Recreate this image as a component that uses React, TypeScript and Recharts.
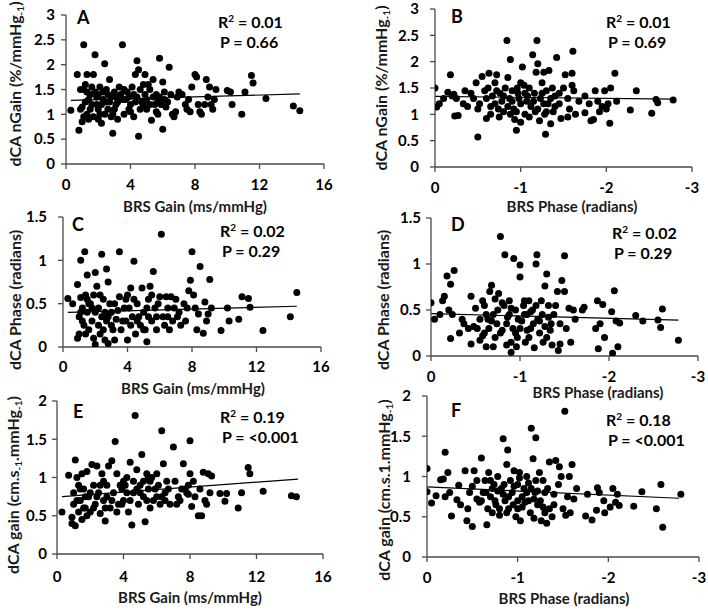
import React from 'react';
import { ScatterChart, Scatter, XAxis, YAxis, ReferenceLine } from 'recharts';

type Pt = [number, number];

const gainTicks = [0, 4, 8, 12, 16];
const phaseTicks = [0, -1, -2, -3];
const nGainTicks = [0, 0.5, 1, 1.5, 2, 2.5, 3];
const dcaPhaseTicks = [0, 0.5, 1, 1.5];
const dcaGainTicks = [0, 0.5, 1, 1.5, 2];

const panelLetters = ['A', 'B', 'C', 'D', 'E', 'F'];
const r2Values = ['0.01', '0.01', '0.02', '0.02', '0.19', '0.18'];
const pValues = ['0.66', '0.69', '0.29', '0.29', '<0.001', '<0.001'];
const xTitles = ['BRS Gain (ms/mmHg)', 'BRS Phase (radians)', 'BRS Gain (ms/mmHg)', 'BRS Phase (radians)', 'BRS Gain (ms/mmHg)', 'BRS Phase (radians)'];

// Panel A: BRS gain vs dCA nGain
const panelA: Pt[] = [
  [0.3, 1.08], [0.7, 1.8], [0.8, 0.68], [1.0, 0.85], [1.0, 1.15], [1.1, 1.5], [1.1, 2.4], [1.2, 1.6], [1.3, 1.8], [1.3, 1.0],
  [1.4, 1.3], [1.5, 1.1], [1.6, 1.55], [1.7, 1.8], [1.7, 0.95], [1.8, 2.2], [1.9, 1.2], [2.0, 1.4], [2.0, 0.9], [2.1, 1.55],
  [2.2, 0.82], [2.3, 1.3], [2.4, 2.02], [2.5, 1.5], [2.6, 1.1], [2.7, 1.7], [2.8, 1.35], [2.9, 1.0], [2.9, 0.62], [3.0, 1.45],
  [3.1, 1.2], [3.2, 0.9], [3.3, 1.55], [3.5, 2.4], [3.5, 1.3], [3.6, 1.0], [3.8, 1.45], [4.0, 1.2], [4.1, 1.55], [4.2, 0.95],
  [4.3, 1.8], [4.4, 2.08], [4.4, 1.35], [4.5, 0.56], [4.5, 1.9], [4.6, 1.1], [4.8, 1.6], [4.9, 1.8], [5.0, 1.3], [5.2, 1.5],
  [5.3, 0.88], [5.4, 1.7], [5.5, 1.2], [5.6, 1.4], [5.7, 1.0], [5.8, 2.13], [6.0, 1.65], [6.0, 0.7], [6.1, 1.3], [6.2, 1.15],
  [6.4, 1.95], [6.5, 1.4], [6.7, 0.95], [6.8, 1.05], [7.0, 1.45], [7.2, 1.4], [7.5, 1.1], [7.6, 1.3], [7.8, 1.55], [8.0, 1.8],
  [8.1, 1.75], [8.2, 1.2], [8.3, 1.05], [8.4, 1.0], [8.7, 1.7], [8.8, 1.35], [8.9, 1.55], [9.0, 1.2], [9.1, 1.1], [9.3, 1.5],
  [9.2, 1.3], [10.0, 1.48], [10.2, 1.45], [10.3, 1.2], [10.9, 1.0], [11.1, 1.45], [11.5, 1.78], [11.6, 1.63], [12.4, 1.32], [14.1, 1.17],
  [14.5, 1.07], [1.2, 1.25], [1.5, 1.4], [1.8, 1.45], [2.2, 1.2], [2.4, 1.0], [2.6, 1.4], [3.0, 1.1], [3.4, 1.4], [3.7, 1.3],
  [3.9, 1.1], [4.2, 1.4], [4.6, 1.5], [4.7, 1.25], [5.0, 1.1], [5.1, 1.6], [5.4, 1.35], [5.9, 1.2], [6.3, 1.25], [5.6, 1.05],
  [4.8, 1.2], [3.2, 1.25], [2.0, 1.1], [1.6, 1.2], [0.9, 1.1], [1.1, 0.95], [2.5, 1.25], [3.6, 1.5], [6.6, 1.0], [7.4, 1.2],
  [7.7, 1.05], [1.3, 1.45], [1.9, 1.35], [2.3, 1.45], [2.7, 1.25], [3.1, 1.35], [3.9, 1.35], [4.3, 1.25], [5.2, 1.2], [5.8, 1.35],
  [6.1, 1.45], [0.9, 1.5], [1.4, 0.9], [2.1, 1.0], [2.8, 0.95], [4.0, 1.05], [4.9, 1.4], [5.7, 1.3], [6.9, 1.35], [8.6, 1.2],
];
const trendA: Pt[] = [[0.3, 1.28], [14.5, 1.41]];

// Panel B: BRS phase vs dCA nGain
const panelB: Pt[] = [
  [0, 1.5], [-0.02, 1.14], [-0.05, 1.2], [-0.1, 1.3], [-0.15, 1.42], [-0.18, 1.75], [-0.2, 1.35], [-0.22, 1.38], [-0.25, 1.3], [-0.23, 0.97],
  [-0.27, 0.98], [-0.35, 1.45], [-0.33, 1.2], [-0.38, 1.15], [-0.42, 1.4], [-0.45, 1.3], [-0.48, 1.6], [-0.5, 1.1], [-0.52, 1.2], [-0.5, 0.57],
  [-0.55, 1.72], [-0.6, 0.92], [-0.62, 1.5], [-0.63, 1.78], [-0.65, 1.0], [-0.67, 1.35], [-0.7, 1.6], [-0.72, 1.75], [-0.74, 1.1], [-0.76, 1.4],
  [-0.78, 1.25], [-0.8, 1.05], [-0.82, 1.5], [-0.84, 2.4], [-0.85, 1.7], [-0.87, 1.3], [-0.88, 2.04], [-0.9, 1.45], [-0.92, 1.1], [-0.93, 0.9],
  [-0.95, 0.7], [-0.96, 1.5], [-0.98, 1.3], [-1.0, 0.85], [-1.0, 1.2], [-1.02, 1.9], [-1.04, 1.55], [-1.05, 1.0], [-1.08, 1.35], [-1.1, 1.5],
  [-1.12, 1.15], [-1.14, 2.13], [-1.16, 1.4], [-1.18, 1.8], [-1.19, 2.4], [-1.2, 1.96], [-1.22, 0.88], [-1.23, 1.3], [-1.25, 1.6], [-1.27, 1.8],
  [-1.28, 1.0], [-1.29, 0.62], [-1.3, 1.45], [-1.32, 1.2], [-1.33, 1.83], [-1.35, 0.82], [-1.37, 1.5], [-1.4, 1.35], [-1.42, 2.08], [-1.45, 1.2],
  [-1.47, 0.92], [-1.5, 1.5], [-1.52, 1.75], [-1.55, 0.95], [-1.57, 1.1], [-1.6, 1.78], [-1.6, 1.55], [-1.61, 2.2], [-1.62, 1.45], [-1.64, 1.0],
  [-1.68, 1.25], [-1.75, 1.35], [-1.75, 1.03], [-1.8, 1.2], [-1.82, 0.88], [-1.85, 0.9], [-1.87, 1.45], [-1.9, 1.25], [-1.92, 1.05], [-1.95, 1.15],
  [-1.98, 1.45], [-2.0, 1.1], [-2.02, 1.2], [-2.05, 1.5], [-2.04, 0.83], [-2.1, 1.78], [-2.12, 1.25], [-2.28, 1.08], [-2.35, 1.45], [-2.53, 1.02],
  [-2.58, 1.28], [-2.6, 1.22], [-2.78, 1.27], [-0.7, 1.2], [-0.75, 0.95], [-0.85, 1.15], [-0.9, 1.25], [-0.95, 1.05], [-1.05, 1.4], [-1.1, 0.95],
  [-1.15, 1.25], [-1.2, 1.1], [-1.25, 1.4], [-1.3, 1.05], [-1.35, 1.3], [-1.4, 1.15], [-1.45, 1.4], [-0.65, 1.15], [-0.6, 1.3], [-0.8, 1.35],
  [-1.0, 1.6], [-1.55, 1.3], [-0.72, 1.45], [-0.88, 1.0], [-0.97, 1.4], [-1.07, 1.25], [-1.17, 1.05], [-1.27, 1.2], [-1.38, 1.05], [-0.58, 1.45],
];
const trendB: Pt[] = [[0, 1.34], [-2.78, 1.29]];

// Panel C: BRS gain vs dCA phase
const panelC: Pt[] = [
  [0.3, 0.56], [0.6, 0.5], [0.9, 0.72], [0.9, 0.1], [1.0, 0.35], [1.0, 0.15], [1.1, 1.0], [1.1, 0.57], [1.2, 0.45], [1.3, 0.25],
  [1.35, 1.1], [1.4, 0.6], [1.5, 0.83], [1.5, 0.4], [1.6, 0.2], [1.7, 0.5], [1.8, 0.3], [1.9, 0.6], [1.9, 0.1], [2.0, 0.86],
  [2.0, 0.03], [2.1, 0.7], [2.2, 0.45], [2.3, 0.15], [2.4, 1.07], [2.4, 0.35], [2.5, 0.55], [2.6, 0.08], [2.7, 0.9], [2.7, 0.3],
  [2.8, 0.04], [2.8, 0.75], [2.9, 0.5], [3.0, 0.4], [3.1, 0.2], [3.2, 0.08], [3.3, 0.32], [3.5, 1.1], [3.5, 0.58], [3.6, 0.2],
  [3.8, 0.45], [3.9, 0.3], [4.0, 0.6], [4.0, 0.08], [4.2, 0.68], [4.3, 0.35], [4.4, 0.99], [4.5, 0.15], [4.6, 0.5], [4.8, 0.25],
  [4.9, 0.68], [5.0, 0.4], [5.1, 0.2], [5.2, 0.06], [5.3, 0.55], [5.4, 0.7], [5.5, 0.3], [5.6, 0.87], [5.7, 0.45], [5.8, 0.2],
  [6.0, 0.58], [6.1, 1.3], [6.2, 0.35], [6.4, 0.58], [6.5, 0.45], [6.6, 0.2], [6.8, 0.3], [7.0, 0.55], [7.2, 0.4], [7.5, 0.5],
  [7.6, 0.3], [7.8, 0.65], [7.9, 0.77], [8.0, 1.1], [8.1, 0.6], [8.2, 0.45], [8.3, 0.2], [8.5, 0.93], [8.7, 0.16], [8.8, 0.52],
  [8.9, 0.3], [9.1, 0.78], [9.2, 0.45], [9.0, 0.38], [9.8, 0.19], [10.2, 0.45], [10.3, 0.3], [10.9, 0.32], [11.1, 0.58], [11.5, 0.56],
  [11.6, 0.46], [12.4, 0.19], [14.1, 0.35], [14.5, 0.63], [1.2, 0.3], [1.6, 0.5], [2.0, 0.4], [2.3, 0.6], [2.6, 0.4], [3.0, 0.25],
  [3.4, 0.42], [4.1, 0.45], [4.7, 0.35], [5.2, 0.45], [5.8, 0.35], [6.3, 0.25], [6.9, 0.45], [7.3, 0.25], [1.4, 0.15], [2.2, 0.25],
  [3.7, 0.3], [4.4, 0.55], [5.5, 0.6], [6.7, 0.58], [7.7, 0.45], [8.4, 0.38], [1.1, 0.4], [1.8, 0.45], [2.5, 0.2], [3.2, 0.5],
  [3.9, 0.55], [4.6, 0.3], [5.0, 0.2], [5.9, 0.5], [6.5, 0.35], [7.1, 0.35], [1.5, 0.55], [2.8, 0.35], [4.2, 0.25], [5.3, 0.35],
];
const trendC: Pt[] = [[0.3, 0.4], [14.5, 0.47]];

// Panel D: BRS phase vs dCA phase
const panelD: Pt[] = [
  [0, 0.58], [-0.04, 0.4], [-0.1, 0.45], [-0.13, 0.6], [-0.15, 0.65], [-0.18, 0.87], [-0.2, 0.5], [-0.22, 0.78], [-0.24, 0.45], [-0.22, 0.19],
  [-0.26, 0.93], [-0.32, 0.25], [-0.35, 0.4], [-0.37, 0.35], [-0.42, 0.3], [-0.45, 0.65], [-0.45, 0.13], [-0.5, 0.52], [-0.52, 0.3], [-0.55, 0.17],
  [-0.58, 0.6], [-0.6, 0.25], [-0.62, 0.1], [-0.64, 0.4], [-0.66, 0.7], [-0.68, 0.77], [-0.7, 0.45], [-0.72, 0.2], [-0.74, 0.35], [-0.76, 0.68],
  [-0.78, 1.3], [-0.8, 0.28], [-0.82, 0.55], [-0.83, 1.1], [-0.85, 0.12], [-0.86, 0.42], [-0.88, 0.6], [-0.9, 0.04], [-0.92, 0.3], [-0.93, 1.06],
  [-0.95, 0.5], [-0.97, 0.2], [-1.0, 0.99], [-1.0, 0.86], [-1.02, 0.38], [-1.04, 0.55], [-1.06, 0.15], [-1.08, 0.45], [-1.1, 0.6], [-1.12, 0.3],
  [-1.14, 0.5], [-1.16, 0.09], [-1.18, 1.0], [-1.19, 1.1], [-1.2, 0.4], [-1.22, 0.25], [-1.24, 0.6], [-1.26, 0.15], [-1.28, 0.76], [-1.3, 0.89],
  [-1.32, 0.42], [-1.34, 0.28], [-1.36, 0.12], [-1.4, 0.55], [-1.42, 0.7], [-1.43, 0.06], [-1.45, 0.13], [-1.47, 0.82], [-1.5, 1.09], [-1.5, 0.7],
  [-1.52, 0.3], [-1.55, 0.52], [-1.57, 0.15], [-1.6, 0.5], [-1.62, 0.4], [-1.7, 0.5], [-1.72, 0.53], [-1.85, 0.3], [-1.87, 0.6], [-1.88, 0.08],
  [-1.9, 0.35], [-1.93, 0.56], [-1.95, 0.2], [-2.03, 0.48], [-2.04, 0.03], [-2.06, 0.71], [-2.08, 0.38], [-2.1, 0.1], [-2.12, 0.36], [-2.3, 0.44],
  [-2.38, 0.38], [-2.55, 0.39], [-2.58, 0.31], [-2.6, 0.51], [-2.78, 0.17], [-0.55, 0.4], [-0.65, 0.3], [-0.75, 0.5], [-0.85, 0.35], [-0.95, 0.25],
  [-1.05, 0.45], [-1.15, 0.35], [-1.25, 0.45], [-1.35, 0.35], [-0.7, 0.1], [-0.9, 0.15], [-1.1, 0.2], [-1.3, 0.2], [-0.6, 0.55], [-1.0, 0.3],
  [-0.48, 0.32], [-0.58, 0.22], [-0.68, 0.38], [-0.78, 0.25], [-0.88, 0.45], [-0.98, 0.4], [-1.08, 0.28], [-1.18, 0.55], [-1.28, 0.32], [-1.38, 0.45],
  [-0.8, 0.58], [-0.9, 0.52], [-1.12, 0.48], [-1.22, 0.38], [-1.45, 0.35], [-0.62, 0.45], [-0.72, 0.62], [-0.96, 0.1], [-1.05, 0.6], [-1.32, 0.55],
];
const trendD: Pt[] = [[0, 0.46], [-2.78, 0.39]];

// Panel E: BRS gain vs dCA gain
const panelE: Pt[] = [
  [0.3, 0.55], [0.7, 1.03], [0.9, 0.48], [0.9, 0.4], [1.0, 0.65], [1.0, 0.8], [1.1, 1.23], [1.1, 0.37], [1.2, 1.0], [1.3, 0.55],
  [1.3, 0.9], [1.4, 0.7], [1.5, 1.05], [1.5, 0.45], [1.6, 0.85], [1.7, 0.6], [1.8, 1.08], [1.9, 0.75], [2.0, 0.55], [2.1, 1.17],
  [2.2, 0.9], [2.3, 0.65], [2.4, 1.15], [2.5, 0.8], [2.6, 0.53], [2.7, 1.05], [2.8, 0.7], [2.9, 0.43], [3.0, 0.9], [3.1, 1.15],
  [3.2, 0.6], [3.3, 1.22], [3.4, 0.8], [3.5, 1.47], [3.6, 1.05], [3.7, 0.65], [3.9, 0.85], [4.0, 0.7], [4.1, 0.9], [4.2, 1.0],
  [4.3, 0.55], [4.4, 1.2], [4.5, 0.38], [4.6, 0.8], [4.7, 1.81], [4.8, 1.1], [4.9, 0.65], [5.0, 0.9], [5.1, 1.3], [5.2, 0.75],
  [5.3, 0.42], [5.4, 1.05], [5.5, 0.85], [5.6, 0.6], [5.7, 1.0], [5.8, 0.7], [6.0, 1.05], [6.1, 0.9], [6.2, 0.65], [6.3, 1.61],
  [6.4, 1.18], [6.5, 0.8], [6.6, 0.95], [6.8, 0.65], [7.0, 1.4], [7.1, 0.95], [7.3, 0.75], [7.5, 0.85], [7.6, 1.18], [7.8, 0.8],
  [7.9, 0.9], [8.0, 1.48], [8.0, 1.05], [8.1, 0.62], [8.2, 0.95], [8.3, 0.75], [8.5, 0.5], [8.6, 0.85], [8.7, 0.5], [8.8, 1.07],
  [8.9, 0.7], [9.0, 0.65], [9.1, 1.05], [9.2, 0.8], [9.3, 1.02], [9.8, 0.79], [10.2, 0.79], [10.1, 0.69], [10.9, 0.6], [11.1, 0.8],
  [11.5, 1.13], [11.6, 1.05], [12.4, 0.82], [14.1, 0.76], [14.4, 0.75], [1.2, 0.7], [1.6, 0.6], [2.0, 0.8], [2.4, 0.75], [2.8, 0.95],
  [3.3, 0.7], [3.8, 0.9], [4.2, 0.8], [4.6, 0.95], [5.0, 0.8], [5.4, 0.7], [5.9, 0.85], [6.3, 0.75], [6.7, 0.85], [7.4, 0.7],
  [1.8, 0.5], [2.2, 0.6], [3.6, 0.55], [4.4, 0.7], [5.6, 0.95], [7.2, 0.65], [1.4, 0.85], [2.6, 0.9], [3.0, 0.75], [3.9, 0.65],
  [4.8, 0.85], [5.2, 0.95], [6.0, 0.75], [7.7, 0.85], [1.7, 0.75], [2.9, 0.6], [4.0, 0.95], [5.5, 1.0], [6.5, 0.7], [7.9, 0.78],
];
const trendE: Pt[] = [[0.3, 0.75], [14.5, 0.98]];

// Panel F: BRS phase vs dCA gain
const panelF: Pt[] = [
  [0, 1.1], [0, 0.81], [-0.05, 0.67], [-0.1, 0.76], [-0.15, 0.96], [-0.18, 0.97], [-0.2, 0.75], [-0.2, 1.3], [-0.25, 0.8], [-0.23, 1.05],
  [-0.27, 0.51], [-0.33, 0.71], [-0.35, 0.89], [-0.37, 0.65], [-0.42, 1.07], [-0.44, 0.45], [-0.45, 0.6], [-0.47, 0.8], [-0.5, 0.38], [-0.5, 0.88],
  [-0.52, 1.07], [-0.55, 0.72], [-0.58, 0.68], [-0.6, 1.23], [-0.62, 0.8], [-0.64, 0.95], [-0.66, 0.4], [-0.67, 0.6], [-0.68, 1.05], [-0.7, 0.75],
  [-0.72, 0.55], [-0.74, 0.9], [-0.76, 0.65], [-0.78, 1.0], [-0.8, 0.52], [-0.82, 0.85], [-0.84, 1.47], [-0.86, 0.7], [-0.88, 1.15], [-0.89, 1.33],
  [-0.9, 0.6], [-0.92, 0.95], [-0.94, 0.8], [-0.96, 1.07], [-0.98, 0.5], [-1.0, 0.7], [-1.0, 0.9], [-1.02, 1.05], [-1.03, 0.45], [-1.05, 0.62],
  [-1.07, 0.85], [-1.1, 1.0], [-1.12, 0.7], [-1.14, 0.55], [-1.15, 1.6], [-1.17, 1.22], [-1.18, 0.48], [-1.19, 0.8], [-1.2, 1.48], [-1.22, 0.65],
  [-1.24, 1.05], [-1.26, 0.45], [-1.28, 0.95], [-1.3, 0.55], [-1.32, 0.42], [-1.33, 0.85], [-1.35, 1.18], [-1.38, 0.5], [-1.4, 0.65], [-1.42, 1.2],
  [-1.45, 0.9], [-1.46, 1.12], [-1.48, 1.0], [-1.5, 0.6], [-1.52, 1.81], [-1.53, 0.52], [-1.55, 0.75], [-1.57, 1.0], [-1.58, 0.55], [-1.6, 1.15],
  [-1.62, 0.72], [-1.65, 0.85], [-1.75, 0.51], [-1.77, 0.78], [-1.82, 0.46], [-1.87, 0.58], [-1.88, 0.86], [-1.9, 0.8], [-1.95, 0.7], [-1.96, 0.55],
  [-2.02, 0.62], [-2.05, 0.85], [-2.08, 0.68], [-2.1, 0.78], [-2.12, 0.64], [-2.28, 0.63], [-2.37, 0.81], [-2.53, 0.6], [-2.58, 0.9], [-2.6, 0.37],
  [-2.8, 0.78], [-0.65, 0.8], [-0.75, 0.7], [-0.85, 0.9], [-0.95, 0.65], [-1.05, 0.75], [-1.15, 0.85], [-1.25, 0.7], [-1.35, 0.6], [-0.7, 0.95],
  [-0.8, 0.6], [-0.9, 0.75], [-1.0, 0.6], [-1.1, 0.8], [-1.2, 0.95], [-1.3, 0.8], [-0.6, 0.7], [-0.72, 0.85], [-0.84, 0.78], [-0.96, 0.88],
  [-1.08, 0.68], [-1.18, 0.72], [-1.28, 0.62], [-1.4, 0.78], [-0.55, 0.95], [-0.88, 0.55], [-1.12, 0.92], [-1.22, 0.82], [-0.78, 0.82], [-1.02, 0.98],
];
const trendF: Pt[] = [[0, 0.87], [-2.78, 0.73]];

const panelData: Pt[][] = [panelA, panelB, panelC, panelD, panelE, panelF];
const trendData: Pt[][] = [trendA, trendB, trendC, trendD, trendE, trendF];

// layout (plot boxes in page pixels)
type Layout = {
  x0: number; x1: number; y0: number; y1: number;
  xKind: 'gain' | 'phase'; yTicks: number[]; yMax: number;
  yTickMargin: number; xTickMargin: number;
};
const layouts: Layout[] = [
  { x0: 66, x1: 324, y0: 15, y1: 164, xKind: 'gain', yTicks: nGainTicks, yMax: 3, yTickMargin: 6, xTickMargin: 10 },
  { x0: 435, x1: 692, y0: 9, y1: 167, xKind: 'phase', yTicks: nGainTicks, yMax: 3, yTickMargin: 11, xTickMargin: 10 },
  { x0: 63, x1: 321, y0: 217, y1: 347, xKind: 'gain', yTicks: dcaPhaseTicks, yMax: 1.5, yTickMargin: 11, xTickMargin: 9 },
  { x0: 431, x1: 698, y0: 218, y1: 356, xKind: 'phase', yTicks: dcaPhaseTicks, yMax: 1.5, yTickMargin: 5, xTickMargin: 10 },
  { x0: 57, x1: 323, y0: 401, y1: 554, xKind: 'gain', yTicks: dcaGainTicks, yMax: 2, yTickMargin: 5, xTickMargin: 12 },
  { x0: 427, x1: 699, y0: 396, y1: 557, xKind: 'phase', yTicks: dcaGainTicks, yMax: 2, yTickMargin: 11, xTickMargin: 10 },
];

const YW = 50;
const XH = 32;
const MT = 12;
const MR = 12;
const AXIS = '#4a4a4a';
const FONT = 'Lato, "Open Sans", sans-serif';
const TICK_FONT = 15;

const Dot = (props: any) => <circle cx={props.cx} cy={props.cy} r={3.5} fill="#000" />;

const Panel = ({ idx }: { idx: number }) => {
  const L = layouts[idx];
  const left = L.x0 - YW;
  const top = L.y0 - MT;
  const W = L.x1 - left + MR;
  const H = L.y1 - top + XH;
  const data = panelData[idx].map(([x, y]) => ({ x, y }));
  const t = trendData[idx];
  const isPhase = L.xKind === 'phase';
  return (
    <div style={{ position: 'absolute', left, top, width: W, height: H }}>
      <ScatterChart width={W} height={H} margin={{ top: MT, right: MR, bottom: 0, left: 0 }}>
        <XAxis
          type="number"
          dataKey="x"
          domain={isPhase ? [-3, 0] : [0, 16]}
          ticks={isPhase ? phaseTicks : gainTicks}
          reversed={isPhase}
          interval={0}
          height={XH}
          tickSize={5}
          tickMargin={L.xTickMargin}
          axisLine={{ stroke: AXIS, strokeWidth: 1.3 }}
          tickLine={{ stroke: AXIS, strokeWidth: 1.3 }}
          tick={{ fill: '#000', fontSize: TICK_FONT, fontWeight: 700 }}
          allowDataOverflow
        />
        <YAxis
          type="number"
          dataKey="y"
          domain={[0, L.yMax]}
          ticks={L.yTicks}
          interval={0}
          width={YW}
          tickSize={5}
          tickMargin={L.yTickMargin}
          axisLine={{ stroke: AXIS, strokeWidth: 1.3 }}
          tickLine={{ stroke: AXIS, strokeWidth: 1.3 }}
          tick={{ fill: '#000', fontSize: TICK_FONT, fontWeight: 700 }}
          allowDataOverflow
        />
        <Scatter data={data} fill="#000" shape={Dot} isAnimationActive={false} />
        <ReferenceLine
          segment={[{ x: t[0][0], y: t[0][1] }, { x: t[1][0], y: t[1][1] }]}
          stroke="#000"
          strokeWidth={1.2}
          ifOverflow="visible"
        />
      </ScatterChart>
    </div>
  );
};

// annotation positions
const letterPos = [[77, 24], [451, 23], [72, 231], [451, 231], [73, 418], [451, 417]];
const statPos = [[218, 28], [606, 28], [220, 237], [612, 239], [220, 423], [606, 426]];
const xTitlePos = [[195, 212], [572, 212], [193, 394], [598, 398], [190, 603], [564, 604]];
const yTitlePos = [[21, 84], [387, 88], [21, 300], [389, 300], [19, 485], [390, 490]];

const Sub = ({ children }: { children: string }) => (
  <tspan fontSize={10} dy={3}>{children}</tspan>
);

const yTitle = (idx: number) => {
  if (idx <= 1) {
    return [<tspan key="a">dCA nGain (%/mmHg</tspan>, <Sub key="b">-1</Sub>, <tspan key="c" dy={-3}>)</tspan>];
  }
  if (idx <= 3) {
    return [<tspan key="a">dCA Phase (radians)</tspan>];
  }
  if (idx === 4) {
    return [
      <tspan key="a">dCA gain (cm.s</tspan>, <Sub key="b">-1</Sub>, <tspan key="c" dy={-3}>.mmHg</tspan>,
      <Sub key="d">-1</Sub>, <tspan key="e" dy={-3}>)</tspan>,
    ];
  }
  return [<tspan key="a">dCA gain (cm.s.1.mmHg</tspan>, <Sub key="b">-1</Sub>, <tspan key="c" dy={-3}>)</tspan>];
};

const Annotations = () => (
  <svg width={708} height={610} style={{ position: 'absolute', left: 0, top: 0, pointerEvents: 'none' }} fontFamily={FONT}>
    {panelLetters.map((l, i) => (
      <text key={'l' + i} x={letterPos[i][0]} y={letterPos[i][1]} fontSize={18} fontWeight={700} fill="#000">{l}</text>
    ))}
    {r2Values.map((r, i) => (
      <g key={'s' + i}>
        <text x={statPos[i][0]} y={statPos[i][1]} fontSize={16} fontWeight={700} fill="#000">
          R<tspan fontSize={10} dy={-6}>2</tspan><tspan dy={6}> = {r}</tspan>
        </text>
        <text x={statPos[i][0] + 2} y={statPos[i][1] + 20} fontSize={16} fontWeight={700} fill="#000">P = {pValues[i]}</text>
      </g>
    ))}
    {xTitles.map((t, i) => (
      <text key={'x' + i} x={xTitlePos[i][0]} y={xTitlePos[i][1]} fontSize={15} fontWeight={700} fill="#1a1a1a" textAnchor="middle">{t}</text>
    ))}
    {layouts.map((_, i) => (
      <text
        key={'y' + i}
        x={yTitlePos[i][0]}
        y={yTitlePos[i][1]}
        transform={`rotate(-90 ${yTitlePos[i][0]} ${yTitlePos[i][1]})`}
        fontSize={16}
        fontWeight={700}
        fill="#1a1a1a"
        textAnchor="middle"
      >
        {yTitle(i)}
      </text>
    ))}
  </svg>
);

export default function App() {
  return (
    <div style={{ position: 'absolute', left: 0, top: 0, width: 708, height: 610, background: '#fff', fontFamily: FONT, overflow: 'hidden' }}>
      {layouts.map((_, i) => <Panel key={i} idx={i} />)}
      <Annotations />
    </div>
  );
}
